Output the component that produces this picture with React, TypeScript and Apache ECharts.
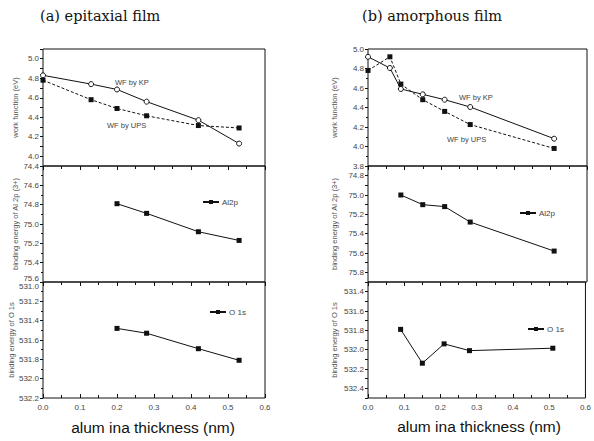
import React, { useEffect, useRef } from "react";
import * as echarts from "echarts";

// ---- data ----
const xLeftWF = [0, 0.13, 0.2, 0.28, 0.42, 0.53];
const kpLeft = [4.83, 4.74, 4.685, 4.56, 4.37, 4.13];
const upsLeft = [4.78, 4.58, 4.49, 4.415, 4.315, 4.29];
const xLeftXPS = [0.2, 0.28, 0.42, 0.53];
const al2pLeft = [74.79, 74.89, 75.08, 75.17];
const o1sLeft = [531.48, 531.53, 531.69, 531.81];

const xRightWF = [0, 0.06, 0.09, 0.15, 0.21, 0.28, 0.51];
const kpRight = [4.92, 4.805, 4.59, 4.535, 4.48, 4.405, 4.08];
const upsRight = [4.78, 4.92, 4.64, 4.48, 4.36, 4.225, 3.98];
const xRightXPS = [0.09, 0.15, 0.21, 0.28, 0.51];
const al2pRight = [75.0, 75.1, 75.12, 75.28, 75.58];
const o1sRight = [531.79, 532.14, 531.94, 532.01, 531.985];

const titles = ["(a) epitaxial film", "(b) amorphous film"];
const xTitle = "alum ina thickness (nm)";
const yTitles = ["work function (eV)", "binding energy of Al 2p (3+)", "binding energy of O 1s"];

// y ranges: [min, max, interval, inverse]
const yRanges = [
  [3.9, 5.1, 0.1, false],
  [74.4, 75.6, 0.2, true],
  [531.0, 532.2, 0.2, true],
  [3.8, 5.0, 0.2, false],
  [74.7, 75.9, 0.1, true],
  [531.3, 532.5, 0.1, true],
];

const pair = (xs: number[], ys: number[]) => xs.map((x, i) => [x, ys[i]]);

const GRAY = "#444";
const FONT = "Liberation Sans, Arial, sans-serif";

export default function App() {
  const ref = useRef<HTMLDivElement>(null);
  useEffect(() => {
    document.body.style.margin = "0";
    const chart = echarts.init(ref.current!, null, { renderer: "svg" });

    const lefts = [43, 368];
    const widths = [222, 219];
    const tops = [49, 166, 282];
    const heights = [117, 116, 116];
    const grids: any[] = [];
    for (let s = 0; s < 2; s++)
      for (let p = 0; p < 3; p++)
        grids.push({
          left: lefts[s],
          top: tops[p],
          width: widths[s],
          height: heights[p],
          show: true,
          borderColor: "#111",
          borderWidth: 1,
          backgroundColor: "transparent",
        });

    const xAxes: any[] = [];
    const yAxes: any[] = [];
    for (let g = 0; g < 6; g++) {
      const p = g % 3;
      xAxes.push({
        type: "value",
        gridIndex: g,
        min: 0,
        max: 0.6,
        interval: 0.1,
        position: "bottom",
        axisLine: { show: false },
        splitLine: { show: false },
        axisTick: { show: p === 2, inside: true, length: 4, lineStyle: { color: "#111" } },
        minorTick: { show: p === 2, splitNumber: 2, length: 3, lineStyle: { color: "#111" } },
        axisLabel: {
          show: p === 2,
          fontSize: 8,
          color: GRAY,
          fontFamily: FONT,
          margin: 5,
          formatter: (v: number) => v.toFixed(1),
        },
      });
    }
    for (let g = 0; g < 6; g++) {
      const p = g % 3;
      xAxes.push({
        type: "value",
        gridIndex: g,
        min: 0,
        max: 0.6,
        interval: 0.1,
        position: "top",
        axisLine: { show: false },
        splitLine: { show: false },
        axisTick: { show: p !== 0, inside: true, length: 4, lineStyle: { color: "#111" } },
        minorTick: { show: p !== 0, splitNumber: 2, length: 3, lineStyle: { color: "#111" } },
        axisLabel: { show: false },
      });
    }
    for (let g = 0; g < 6; g++) {
      const [mn, mx, iv, inv] = yRanges[g] as [number, number, number, boolean];
      const p = g % 3;
      yAxes.push({
        type: "value",
        gridIndex: g,
        min: mn,
        max: mx,
        interval: iv,
        inverse: inv,
        position: "left",
        name: yTitles[p],
        nameLocation: "middle",
        nameGap: g < 3 ? 24 : 30,
        nameTextStyle: { fontSize: 7.5, color: "#555", fontFamily: FONT },
        axisLine: { show: false },
        splitLine: { show: false },
        axisTick: { show: true, inside: false, length: 3, lineStyle: { color: "#111" } },
        minorTick: { show: iv > 0.15, splitNumber: 2, length: 2, lineStyle: { color: "#111" } },
        axisLabel: {
          fontSize: 8,
          color: GRAY,
          fontFamily: FONT,
          margin: 4,
          showMinLabel: true,
          showMaxLabel: true,
          rich: {
            up: { fontSize: 8, color: GRAY, fontFamily: FONT, padding: [0, 0, 8, 0] },
            dn: { fontSize: 8, color: GRAY, fontFamily: FONT, padding: [8, 0, 0, 0] },
          },
          formatter: (v: number) => {
            if (Math.abs(Math.round(v * 10)) % 2 !== 0) return "";
            const s = v.toFixed(1);
            if (g === 1 && Math.abs(v - mx) < 1e-6) return "{up|" + s + "}";
            if (g === 2 && Math.abs(v - mn) < 1e-6) return "{dn|" + s + "}";
            return s;
          },
        },
      });
    }
    for (let g = 0; g < 6; g++) {
      const [mn, mx, iv, inv] = yRanges[g] as [number, number, number, boolean];
      yAxes.push({
        type: "value",
        gridIndex: g,
        min: mn,
        max: mx,
        interval: iv,
        inverse: inv,
        position: "right",
        axisLine: { show: false },
        splitLine: { show: false },
        axisTick: { show: true, inside: true, length: 3, lineStyle: { color: "#111" } },
        minorTick: { show: iv > 0.15, splitNumber: 2, length: 2, lineStyle: { color: "#111" } },
        axisLabel: { show: false },
      });
    }

    const kpStyle = (name: string, data: number[][], g: number) => ({
      name,
      type: "line",
      xAxisIndex: g,
      yAxisIndex: g,
      data,
      symbol: "circle",
      symbolSize: 5,
      itemStyle: { color: "#fff", borderColor: "#111", borderWidth: 1 },
      lineStyle: { color: "#111", width: 1 },
    });
    const sqStyle = (name: string, data: number[][], g: number, dashed: boolean) => ({
      name,
      type: "line",
      xAxisIndex: g,
      yAxisIndex: g,
      data,
      symbol: "rect",
      symbolSize: 5,
      itemStyle: { color: "#111" },
      lineStyle: { color: "#111", width: 1, type: dashed ? [3, 2] : "solid" },
    });

    const series = [
      kpStyle("WF by KP (a)", pair(xLeftWF, kpLeft), 0),
      sqStyle("WF by UPS (a)", pair(xLeftWF, upsLeft), 0, true),
      sqStyle("Al2p", pair(xLeftXPS, al2pLeft), 1, false),
      sqStyle("O 1s", pair(xLeftXPS, o1sLeft), 2, false),
      kpStyle("WF by KP (b)", pair(xRightWF, kpRight), 3),
      sqStyle("WF by UPS (b)", pair(xRightWF, upsRight), 3, true),
      sqStyle("Al2p", pair(xRightXPS, al2pRight), 4, false),
      sqStyle("O 1s", pair(xRightXPS, o1sRight), 5, false),
    ];

    const mkLegend = (name: string, left: number, top: number) => ({
      data: [name],
      left,
      top,
      padding: 0,
      itemWidth: 16,
      itemHeight: 5,
      itemGap: 2,
      selectedMode: false,
      textStyle: { fontSize: 8, color: GRAY, fontFamily: FONT, padding: [0, 0, 0, -2] },
    });

    const txt = (text: string, x: number, y: number, size: number, color: string, family: string, align = "left") => ({
      type: "text",
      x,
      y,
      style: { text, fontSize: size, fill: color, fontFamily: family, align, verticalAlign: "middle" },
    });

    const SERIF = "DejaVu Serif, serif";
    const option: any = {
      animation: false,
      grid: grids,
      xAxis: xAxes,
      yAxis: yAxes,
      series,
      legend: [
        mkLegend("Al2p", 202, 198),
        mkLegend("O 1s", 209, 308),
        mkLegend("Al2p", 519, 209),
        mkLegend("O 1s", 527, 325),
      ],
      graphic: [
        txt(titles[0], 40, 16, 14.5, "#111", SERIF),
        txt(titles[1], 362, 16, 14.5, "#111", SERIF),
        txt(xTitle, 153, 427, 15.5, "#111", FONT, "center"),
        txt(xTitle, 479, 426, 15.5, "#111", FONT, "center"),
        txt("WF by KP", 115, 82, 7.5, GRAY, FONT),
        txt("WF by UPS", 107, 125, 7.5, GRAY, FONT),
        txt("WF by KP", 459, 97, 7.5, GRAY, FONT),
        txt("WF by UPS", 447, 139, 7.5, GRAY, FONT),
      ],
    };
    chart.setOption(option);
    return () => chart.dispose();
  }, []);
  return <div ref={ref} style={{ width: 594, height: 441 }} />;
}
